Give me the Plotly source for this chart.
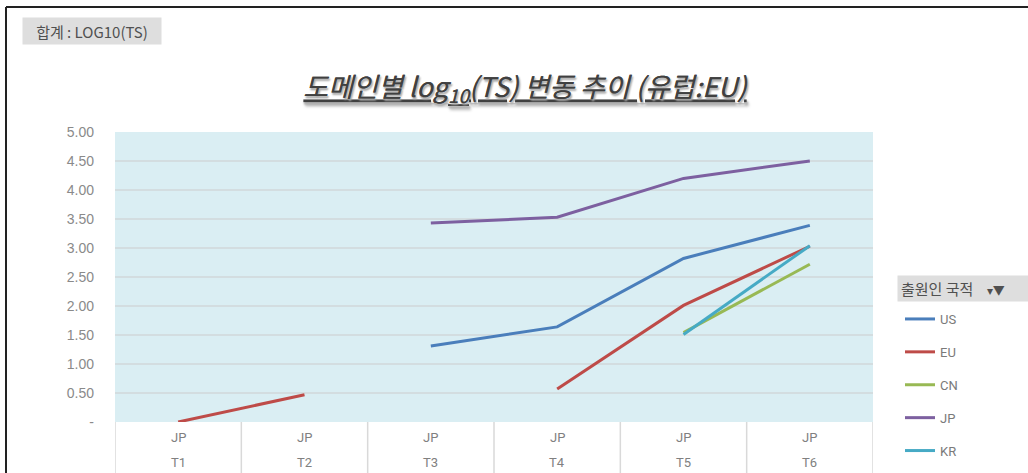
import plotly.graph_objects as go

# ---- data ----
periods = ["T1", "T2", "T3", "T4", "T5", "T6"]
domain_labels = ["JP", "JP", "JP", "JP", "JP", "JP"]
series_names = ["US", "EU", "CN", "JP", "KR"]
us = [None, None, 1.31, 1.64, 2.82, 3.39]
eu = [0.00, 0.47, None, 0.57, 2.01, 3.03]
cn = [None, None, None, None, 1.54, 2.72]
jp = [None, None, 3.43, 3.53, 4.20, 4.50]
kr = [None, None, None, None, 1.51, 3.04]
y_tickvals = [0, 0.5, 1, 1.5, 2, 2.5, 3, 3.5, 4, 4.5, 5]
y_ticktext = ["-", "0.50", "1.00", "1.50", "2.00", "2.50", "3.00", "3.50", "4.00", "4.50", "5.00"]

colors = ["#4a7ebb", "#be4b48", "#98b954", "#7d60a0", "#46aac5"]
values = [us, eu, cn, jp, kr]

W, H = 1028, 473
L, R, T, B = 115, 873, 132, 422  # plot area in pixels


def px(x):
    return (x - L) / (R - L)


def py(y):
    return (B - y) / (B - T)


fig = go.Figure()
for name, vals, col in zip(series_names, values, colors):
    fig.add_trace(go.Scatter(
        x=periods, y=vals, name=name, mode="lines",
        line=dict(color=col, width=3), connectgaps=False,
        legendgroup=name,
    ))

shapes = []
# category divider lines under plot area
for i in range(len(periods) + 1):
    shapes.append(dict(type="line", xref="x", yref="paper",
                       x0=i - 0.5, x1=i - 0.5, y0=0, y1=py(480),
                       line=dict(color="#d9d9d9", width=1.5), layer="below"))
# outer frame of the image
shapes.append(dict(type="line", xref="paper", yref="paper",
                   x0=px(6), x1=px(6), y0=py(7), y1=py(480),
                   line=dict(color="#222222", width=2)))
shapes.append(dict(type="line", xref="paper", yref="paper",
                   x0=px(6), x1=px(1035), y0=py(7), y1=py(7),
                   line=dict(color="#222222", width=2)))

annotations = []
label_font = dict(family="Liberation Sans Narrow, Roboto, sans-serif", size=13, color="#808080")
for i, (d, p) in enumerate(zip(domain_labels, periods)):
    annotations.append(dict(x=i, xref="x", y=py(437), yref="paper", text=d,
                            showarrow=False, font=label_font, yanchor="middle"))
    annotations.append(dict(x=i, xref="x", y=py(462), yref="paper", text=p,
                            showarrow=False, font=label_font, yanchor="middle"))

# top-left field button
annotations.append(dict(x=px(22), y=py(17), xref="paper", yref="paper",
                        xanchor="left", yanchor="top", showarrow=False,
                        text="합계 : LOG10(TS)", width=132, height=20,
                        bgcolor="#dedede", borderpad=3, align="center",
                        font=dict(family="Noto Sans CJK KR, sans-serif", size=15, color="#505050")))
# legend header button
annotations.append(dict(x=px(897), y=py(275), xref="paper", yref="paper",
                        xanchor="left", yanchor="top", showarrow=False,
                        text="출원인 국적    <span style='font-size:12px'>▾▼</span>", width=130, height=19,
                        bgcolor="#dedede", borderpad=3, align="left",
                        font=dict(family="Noto Sans CJK KR, sans-serif", size=15, color="#505050")))

fig.update_layout(
    width=W, height=H,
    margin=dict(l=L, r=W - R, t=T, b=H - B, autoexpand=False),
    paper_bgcolor="white",
    plot_bgcolor="#daeef3",
    title=dict(
        text="<i><u>도메인별 log<sub>10</sub>(TS) 변동 추이 (유럽:EU)</u></i>",
        x=525 / W, xanchor="center", y=1 - 88 / H, yanchor="middle",
        font=dict(family="Noto Sans CJK KR, sans-serif", size=27, color="#404040",
                  shadow="1px 2px 2px #b0b0b0"),
    ),
    xaxis=dict(type="category", range=[-0.5, 5.5], showticklabels=False,
               showgrid=False, zeroline=False, showline=False),
    yaxis=dict(range=[0, 5], tickvals=y_tickvals, ticktext=y_ticktext,
               showgrid=True, gridcolor="#d3dde0", gridwidth=2,
               zeroline=False, showline=False, ticks="",
               ticklabelstandoff=20,
               tickfont=dict(family="Liberation Sans, sans-serif", size=14, color="#8a8a8a")),
    legend=dict(x=px(900), y=py(304), xanchor="left", yanchor="top",
                xref="paper", yref="paper", tracegroupgap=13,
                bgcolor="rgba(0,0,0,0)",
                font=dict(family="Liberation Sans Narrow, Roboto, sans-serif", size=13, color="#7a7a7a")),
    shapes=shapes,
    annotations=annotations,
    showlegend=True,
)

fig.write_html("out.html")
